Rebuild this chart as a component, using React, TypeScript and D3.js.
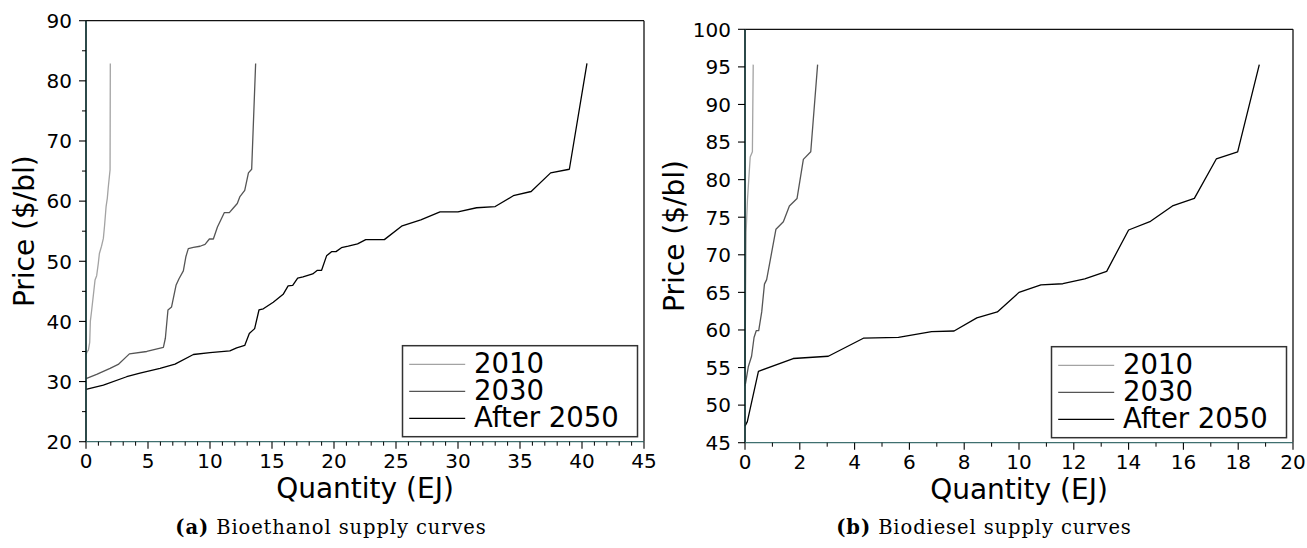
import React, { FC } from "react";
import { scaleLinear, line, range } from "d3";

type Pt = [number, number];

const seriesNames = ["2010", "2030", "After 2050"];
const seriesColors = ["#a3a3a3", "#555555", "#000000"];

// (a) bioethanol, quantity EJ vs price $/bl
const ethanol2010: Pt[] = [
  [0, 34.5], [0.1, 35], [0.19, 35.2], [0.3, 36.5], [0.35, 40], [0.46, 41.9],
  [0.6, 44.5], [0.73, 46.9], [0.86, 47.6], [0.99, 49.6], [1.08, 51.3],
  [1.25, 52.5], [1.4, 53.8], [1.5, 56], [1.62, 59.1], [1.72, 60.5],
  [1.8, 62.4], [1.94, 65.2], [1.96, 82.9],
];
const ethanol2030: Pt[] = [
  [0, 30.5], [0.86, 31.2], [1.94, 32.2], [2.6, 32.85], [3.5, 34.6],
  [4.9, 35.0], [6.24, 35.7], [6.4, 37.2], [6.61, 41.9], [6.9, 42.4],
  [7.26, 46.0], [7.5, 47.1], [7.85, 48.4], [8.06, 50.8], [8.25, 52.1],
  [8.66, 52.3], [9.2, 52.5], [9.6, 52.8], [9.95, 53.7], [10.27, 53.7],
  [10.6, 55.7], [11.16, 58.1], [11.56, 58.1], [11.9, 58.9], [12.2, 59.6],
  [12.4, 60.7], [12.8, 61.8], [13.1, 64.7], [13.36, 65.3], [13.68, 82.9],
];
const ethanol2050: Pt[] = [
  [0, 28.7], [1.4, 29.4], [3.28, 30.8], [4.35, 31.4], [5.97, 32.2],
  [7.18, 32.9], [8.66, 34.5], [10.0, 34.8], [11.6, 35.1], [12.15, 35.6],
  [12.8, 36.0], [13.17, 38.0], [13.6, 38.8], [13.95, 41.9], [14.3, 42.1],
  [15.1, 43.2], [15.9, 44.5], [16.3, 45.9], [16.67, 46.0], [17.07, 47.2],
  [17.5, 47.4], [18.28, 47.9], [18.66, 48.5], [19.0, 48.5], [19.4, 50.9],
  [19.8, 51.6], [20.16, 51.6], [20.6, 52.25], [21.15, 52.5], [21.9, 52.9],
  [22.56, 53.6], [24.06, 53.6], [25.5, 55.9], [27.0, 56.9], [28.55, 58.2],
  [30.0, 58.2], [31.5, 58.9], [33.0, 59.1], [34.46, 60.9], [35.9, 61.6],
  [37.47, 64.7], [38.98, 65.3], [40.4, 82.9],
];

// (b) biodiesel
const diesel2010: Pt[] = [
  [0, 52.5], [0.02, 65], [0.04, 73], [0.09, 77.3], [0.19, 83.0],
  [0.27, 83.7], [0.3, 95.3],
];
const diesel2030: Pt[] = [
  [0, 52.9], [0.02, 52.9], [0.12, 55.1], [0.24, 56.5], [0.33, 59.0],
  [0.41, 59.9], [0.5, 59.9], [0.61, 62.4], [0.71, 66.1], [0.79, 66.7],
  [1.13, 73.4], [1.4, 74.4], [1.62, 76.5], [1.9, 77.5], [2.13, 82.7],
  [2.4, 83.7], [2.65, 95.3],
];
const diesel2050: Pt[] = [
  [0, 47.2], [0.085, 47.8], [0.49, 54.5], [1.76, 56.2], [3.04, 56.5],
  [4.32, 58.9], [5.6, 59.0], [6.81, 59.77], [7.63, 59.86], [8.46, 61.6],
  [9.21, 62.4], [10.0, 65.0], [10.8, 66.0], [11.6, 66.15], [12.4, 66.8],
  [13.2, 67.8], [14.0, 73.3], [14.8, 74.45], [15.6, 76.5], [16.4, 77.5],
  [17.2, 82.75], [17.98, 83.7], [18.77, 95.3],
];

const ethanolXTicks = range(0, 46, 5);
const ethanolXMinor = range(0, 46, 1);
const ethanolYTicks = range(20, 91, 10);
const ethanolYMinor = range(20, 91, 5);

const dieselXTicks = range(0, 21, 2);
const dieselXMinor = range(0, 21, 1);
const dieselYTicks = range(45, 101, 5);

const sans = "DejaVu Sans, sans-serif";
const serif = "DejaVu Serif, serif";

interface PanelProps {
  left: number;
  right: number;
  top: number;
  bottom: number;
  xDomain: [number, number];
  yDomain: [number, number];
  xTicks: number[];
  xMinor: number[];
  yTicks: number[];
  yMinor: number[];
  series: Pt[][];
  yLabelOffset: number;
}

const Panel: FC<PanelProps> = ({
  left,
  right,
  top,
  bottom,
  xDomain,
  yDomain,
  xTicks,
  xMinor,
  yTicks,
  yMinor,
  series,
  yLabelOffset,
}) => {
  const x = scaleLinear().domain(xDomain).range([left, right]);
  const y = scaleLinear().domain(yDomain).range([bottom, top]);
  const path = line<Pt>()
    .x((d) => x(d[0]))
    .y((d) => y(d[1]));

  // legend sits in the lower right corner
  const lgRight = right - 6.5;
  const lgBottom = bottom - 5;
  const lgW = 235;
  const lgH = 91;
  const lgLeft = lgRight - lgW;
  const lgTop = lgBottom - lgH;

  return (
    <g>
      {series.map((s, i) => (
        <path
          key={seriesNames[i]}
          d={path(s) ?? ""}
          fill="none"
          stroke={seriesColors[i]}
          strokeWidth={1.3}
          strokeLinejoin="round"
        />
      ))}

      {/* frame */}
      <line x1={left} x2={right} y1={top} y2={top} stroke="#111" strokeWidth={1.3} />
      <line x1={right} x2={right} y1={top} y2={bottom} stroke="#111" strokeWidth={1.3} />
      <line x1={left} x2={left} y1={top} y2={bottom} stroke="#163636" strokeWidth={1.8} />
      <line x1={left} x2={right} y1={bottom} y2={bottom} stroke="#3f6f6f" strokeWidth={1.2} />

      {/* x ticks */}
      {xMinor
        .filter((t) => !xTicks.includes(t))
        .map((t) => (
          <line key={"xm" + t} x1={x(t)} x2={x(t)} y1={bottom} y2={bottom + 4} stroke="#000" strokeWidth={1} />
        ))}
      {xTicks.map((t) => (
        <g key={"x" + t}>
          <line x1={x(t)} x2={x(t)} y1={bottom} y2={bottom + 7} stroke="#000" strokeWidth={1.1} />
          <text
            x={x(t)}
            y={bottom + 26.5}
            textAnchor="middle"
            fontFamily={sans}
            fontSize={20}
          >
            {t}
          </text>
        </g>
      ))}

      {/* y ticks */}
      {yMinor
        .filter((t) => !yTicks.includes(t))
        .map((t) => (
          <line key={"ym" + t} x1={left - 4} x2={left} y1={y(t)} y2={y(t)} stroke="#000" strokeWidth={1} />
        ))}
      {yTicks.map((t) => (
        <g key={"y" + t}>
          <line x1={left - 7} x2={left} y1={y(t)} y2={y(t)} stroke="#000" strokeWidth={1.1} />
          <text
            x={left - 14}
            y={y(t) + 7.3}
            textAnchor="end"
            fontFamily={sans}
            fontSize={20}
          >
            {t}
          </text>
        </g>
      ))}

      {/* axis labels */}
      <text
        x={(left + right) / 2}
        y={bottom + 56}
        textAnchor="middle"
        fontFamily={sans}
        fontSize={28}
      >
        Quantity (EJ)
      </text>
      <text
        transform={`translate(${left - yLabelOffset},${(top + bottom) / 2}) rotate(-90)`}
        textAnchor="middle"
        fontFamily={sans}
        fontSize={28}
      >
        Price ($/bl)
      </text>

      {/* legend */}
      <rect
        x={lgLeft}
        y={lgTop}
        width={lgW}
        height={lgH}
        fill="#fff"
        stroke="#333"
        strokeWidth={1.5}
      />
      {seriesNames.map((name, i) => {
        const base = lgTop + 27.6 + i * 27;
        return (
          <g key={"lg" + name}>
            <line
              x1={lgLeft + 6.7}
              x2={lgLeft + 62.7}
              y1={base - 9}
              y2={base - 9}
              stroke={seriesColors[i]}
              strokeWidth={1.3}
            />
            <text x={lgLeft + 71.6} y={base} fontFamily={sans} fontSize={27.5}>
              {name}
            </text>
          </g>
        );
      })}
    </g>
  );
};

const Caption: FC<{ cx: number; tag: string; text: string }> = ({ cx, tag, text }) => (
  <text
    x={cx}
    y={534}
    textAnchor="middle"
    fontFamily={serif}
    fontSize={19.5}
    letterSpacing={0.9}
  >
    <tspan fontWeight="bold">{tag}</tspan> {text}
  </text>
);

export default function App() {
  return (
    <svg
      width={1307}
      height={548}
      style={{ position: "absolute", left: 0, top: 0, background: "#fff" }}
    >
      <rect width={1307} height={548} fill="#fff" />
      <Panel
        left={86}
        right={644}
        top={20.7}
        bottom={441.7}
        xDomain={[0, 45]}
        yDomain={[20, 90]}
        xTicks={ethanolXTicks}
        xMinor={ethanolXMinor}
        yTicks={ethanolYTicks}
        yMinor={ethanolYMinor}
        series={[ethanol2010, ethanol2030, ethanol2050]}
        yLabelOffset={52.3}
      />
      <Panel
        left={745}
        right={1293}
        top={29.3}
        bottom={442.7}
        xDomain={[0, 20]}
        yDomain={[45, 100]}
        xTicks={dieselXTicks}
        xMinor={dieselXMinor}
        yTicks={dieselYTicks}
        yMinor={dieselYTicks}
        series={[diesel2010, diesel2030, diesel2050]}
        yLabelOffset={61.3}
      />
      <Caption cx={331} tag="(a)" text="Bioethanol supply curves" />
      <Caption cx={984} tag="(b)" text="Biodiesel supply curves" />
    </svg>
  );
}
